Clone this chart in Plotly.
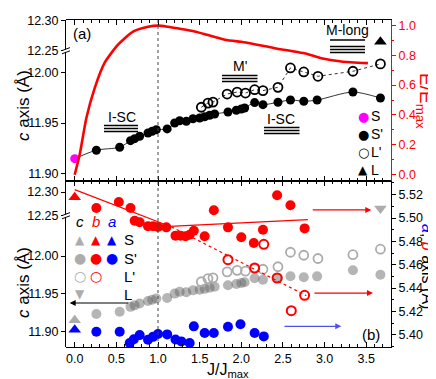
import plotly.graph_objects as go

# ---------------- data ----------------
# c-axis (Å) vs J/Jmax (shared by both panels)
J_S = [0.0]
c_S = [11.9146]
J_Sp = [0.26, 0.54, 0.67, 0.72, 0.78, 0.88, 0.93, 0.98, 1.11, 1.20, 1.26, 1.34, 1.42, 1.50,
        1.56, 1.62, 1.68, 1.84, 1.94, 2.00, 2.04, 2.16, 2.26, 2.44, 2.59, 2.75, 2.91, 3.34, 3.67]
c_Sp = [11.923, 11.926, 11.9325, 11.9345, 11.9369, 11.9402, 11.9419, 11.9435, 11.9442, 11.9501,
        11.9524, 11.9518, 11.9544, 11.9551, 11.9564, 11.9578, 11.9591, 11.9611, 11.9628, 11.9641,
        11.9651, 11.9705, 11.9684, 11.9708, 11.9731, 11.9718, 11.973, 11.981, 11.975]
J_Lp = [1.52, 1.60, 1.66, 1.83, 1.95, 2.05, 2.16, 2.26, 2.44, 2.59, 2.75, 2.92, 3.34, 3.67]
c_Lp = [11.9658, 11.970, 11.971, 11.979, 11.981, 11.980, 11.9833, 11.9824, 11.9857, 12.005,
        12.001, 11.9967, 12.0017, 12.009]
J_L = [3.67]
c_L = [12.265]

# normalised energy E/Emax
J_E = [0.0, 0.06, 0.14, 0.24, 0.36, 0.52, 0.70, 0.88, 1.0, 1.12, 1.28, 1.44, 1.60, 1.84,
       2.0, 2.40, 2.80, 2.96, 3.20, 3.52]
E_rel = [0.0, 0.135, 0.38, 0.58, 0.75, 0.87, 0.958, 0.99, 0.998, 0.99, 0.975, 0.958, 0.935,
         0.90, 0.89, 0.847, 0.807, 0.78, 0.758, 0.747]

# b-axis (Å)
b_S = [5.5178]
J_bSp = [0.26, 0.53, 0.67, 0.72, 0.78, 0.88, 0.94, 1.00, 1.10, 1.21, 1.27, 1.33, 1.38, 1.43,
         1.56, 1.67, 1.84, 2.00, 2.15, 2.26, 2.43, 2.59, 2.76]
b_Sp = [5.5086, 5.5137, 5.5086, 5.4977, 5.4963, 5.4929, 5.4929, 5.4923, 5.492, 5.4849, 5.4849,
        5.4843, 5.4857, 5.4891, 5.4843, 5.5066, 5.492, 5.4835, 5.4786, 5.490, 5.5195, 5.5109, 5.4911]
J_bLp = [1.84, 2.16, 2.27, 2.43, 2.60, 2.76]
b_Lp = [5.4643, 5.4572, 5.4775, 5.4486, 5.4206, 5.4338]

# linear fits of b
J_fit1 = [0.0, 1.14]
b_fit1 = [5.5243, 5.4929]
J_fit2 = [1.14, 2.80]
b_fit2 = [5.4929, 5.4986]
J_fit3 = [1.16, 2.78]
b_fit3 = [5.4925, 5.4335]

# a-axis (Å)
a_S = [5.4043]
J_aSp = [0.26, 0.54, 0.66, 0.71, 0.78, 0.88, 0.94, 1.00, 1.11, 1.21, 1.28, 1.38, 1.43, 1.56,
         1.67, 1.84, 1.99, 2.16, 2.27]
a_Sp = [5.4026, 5.4026, 5.3929, 5.3961, 5.3997, 5.3957, 5.3982, 5.4006, 5.4003, 5.3959, 5.3943,
        5.3929, 5.4072, 5.4015, 5.4015, 5.4068, 5.409, 5.4015, 5.3986]

x_ticks = [0.0, 0.5, 1.0, 1.5, 2.0, 2.5, 3.0, 3.5]

# ---------------- styling ----------------
RED = "#ff0000"
BLUE = "#0000ff"
MAG = "#ff00ff"
GRAY_F = "rgba(100,100,100,0.48)"
GRAY = "rgb(172,172,172)"
FONT = "Liberation Sans, Arial, sans-serif"

W, H = 436, 379
L, R, T, B = 58, 383, 12, 339


def Xp(px):
    return (px - L) / (R - L)


def Yp(py):
    return (B - py) / (B - T)


MID = Yp(173)
BRK_TOP = Yp(42.7)
BRK_BOT = Yp(207.7)

fig = go.Figure()

# ---- top panel ----
fig.add_trace(go.Scatter(x=J_S + J_Sp, y=c_S + c_Sp, xaxis="x2", yaxis="y", mode="lines",
                         line=dict(color="black", width=0.8, shape="spline", smoothing=0.8)))
fig.add_trace(go.Scatter(x=J_Lp, y=c_Lp, xaxis="x2", yaxis="y", mode="lines+markers",
                         line=dict(color="black", width=0.8, dash="dot"),
                         marker=dict(symbol="circle-open", size=9, color="black", line=dict(width=1.8))))
fig.add_trace(go.Scatter(x=J_Sp, y=c_Sp, xaxis="x2", yaxis="y", mode="markers",
                         marker=dict(symbol="circle", size=9, color="black")))
fig.add_trace(go.Scatter(x=J_S, y=c_S, xaxis="x2", yaxis="y", mode="markers",
                         marker=dict(symbol="circle", size=9, color=MAG)))
fig.add_trace(go.Scatter(x=J_L, y=c_L, xaxis="x2", yaxis="y2", mode="markers",
                         marker=dict(symbol="triangle-up", size=11, color="black")))
fig.add_trace(go.Scatter(x=J_E, y=E_rel, xaxis="x2", yaxis="y3", mode="lines",
                         line=dict(color=RED, width=2.6, shape="spline", smoothing=0.6)))

# ---- bottom panel ----
fig.add_trace(go.Scatter(x=J_Sp, y=c_Sp, xaxis="x", yaxis="y4", mode="markers",
                         marker=dict(symbol="circle", size=10, color=GRAY_F)))
fig.add_trace(go.Scatter(x=J_Lp, y=c_Lp, xaxis="x", yaxis="y4", mode="markers",
                         marker=dict(symbol="circle-open", size=9, color=GRAY, line=dict(width=1.8))))
fig.add_trace(go.Scatter(x=J_S, y=c_S, xaxis="x", yaxis="y4", mode="markers",
                         marker=dict(symbol="triangle-up", size=11, color=GRAY)))
fig.add_trace(go.Scatter(x=J_L, y=c_L, xaxis="x", yaxis="y5", mode="markers",
                         marker=dict(symbol="triangle-down", size=11, color=GRAY)))
fig.add_trace(go.Scatter(x=J_aSp, y=a_Sp, xaxis="x", yaxis="y6", mode="markers",
                         marker=dict(symbol="circle", size=10, color=BLUE)))
fig.add_trace(go.Scatter(x=J_S, y=a_S, xaxis="x", yaxis="y6", mode="markers",
                         marker=dict(symbol="triangle-up", size=11, color=BLUE)))
fig.add_trace(go.Scatter(x=J_fit1, y=b_fit1, xaxis="x", yaxis="y6", mode="lines",
                         line=dict(color=RED, width=1.2)))
fig.add_trace(go.Scatter(x=J_fit2, y=b_fit2, xaxis="x", yaxis="y6", mode="lines",
                         line=dict(color=RED, width=1.2)))
fig.add_trace(go.Scatter(x=J_fit3, y=b_fit3, xaxis="x", yaxis="y6", mode="lines",
                         line=dict(color=RED, width=1.2, dash="dot")))
fig.add_trace(go.Scatter(x=J_bSp, y=b_Sp, xaxis="x", yaxis="y6", mode="markers",
                         marker=dict(symbol="circle", size=10, color=RED)))
fig.add_trace(go.Scatter(x=J_bLp, y=b_Lp, xaxis="x", yaxis="y6", mode="markers",
                         marker=dict(symbol="circle-open", size=9, color=RED, line=dict(width=2))))
fig.add_trace(go.Scatter(x=J_S, y=b_S, xaxis="x", yaxis="y6", mode="markers",
                         marker=dict(symbol="triangle-up", size=11, color=RED)))

tick_font = dict(family=FONT, size=12.5, color="black")
x_common = dict(range=[-0.1044, 3.797], showgrid=False, zeroline=False,
                showline=True, linecolor="black", linewidth=1, ticks="inside", ticklen=5,
                tickcolor="black", tickvals=x_ticks, mirror="ticks",
                minor=dict(ticks="inside", ticklen=3, dtick=0.1, tick0=0, tickcolor="black"))
yc_common = dict(showgrid=False, zeroline=False, showline=True, linecolor="black", linewidth=1,
                 ticks="outside", ticklen=4, tickcolor="black", tickfont=tick_font,
                 tickformat=".2f", side="left")

fig.update_layout(
    width=W, height=H, margin=dict(l=L, r=W - R, t=T, b=H - B),
    paper_bgcolor="white", plot_bgcolor="rgba(0,0,0,0)", template="none",
    showlegend=False, font=dict(family=FONT, color="black"),
    xaxis=dict(**x_common, domain=[0, 1], anchor="y6", tickformat=".1f", tickfont=tick_font),
    xaxis2=dict(**x_common, domain=[0, 1], anchor="y3", matches="x", showticklabels=False),
    yaxis=dict(**yc_common, domain=[MID, BRK_TOP], range=[11.8923, 12.0222],
               tickvals=[11.90, 11.95, 12.00], anchor="x2"),
    yaxis2=dict(**yc_common, domain=[BRK_TOP, 1], range=[12.25, 12.3012],
                tickvals=[12.25, 12.30], anchor="x2"),
    yaxis3=dict(domain=[MID, 1], range=[-0.042, 1.0355], side="right", anchor="x2",
                showline=True, linecolor=RED, linewidth=1, ticks="outside", ticklen=4,
                tickcolor=RED, tickfont=dict(family=FONT, size=12.5, color=RED),
                dtick=0.2, tick0=0, tickformat=".1f", showgrid=False, zeroline=False,
                minor=dict(ticks="outside", dtick=0.1, tick0=0, ticklen=2, tickcolor=RED)),
    yaxis4=dict(**yc_common, domain=[0, BRK_BOT], range=[11.8792, 12.0535],
                tickvals=[11.90, 11.95, 12.00], anchor="x"),
    yaxis5=dict(**yc_common, domain=[BRK_BOT, MID], range=[12.25, 12.3232],
                tickvals=[12.25, 12.30], anchor="x"),
    yaxis6=dict(domain=[0, MID], range=[5.3895, 5.5317], side="right", anchor="x",
                showline=True, linecolor="black", linewidth=1, ticks="outside", ticklen=4,
                tickcolor="black", tickfont=tick_font, dtick=0.02, tick0=5.40,
                tickformat=".2f", showgrid=False, zeroline=False,
                minor=dict(ticks="outside", dtick=0.01, tick0=5.40, ticklen=2, tickcolor="black")),
)

shapes = []
# vertical dotted line at J/Jmax = 1
shapes.append(dict(type="line", xref="x", yref="paper", x0=1.0, x1=1.0, y0=0, y1=1,
                   line=dict(color="#444444", width=1, dash="dot")))
# axis breaks
for pyb in (42.7, 207.7):
    shapes.append(dict(type="rect", xref="paper", yref="paper", x0=Xp(55), x1=Xp(61),
                       y0=Yp(pyb + 1.2), y1=Yp(pyb - 1.2), line=dict(width=0), fillcolor="white"))
    for off in (-1.6, 1.6):
        shapes.append(dict(type="line", xref="paper", yref="paper", x0=Xp(54), x1=Xp(62),
                           y0=Yp(pyb + off + 1.5), y1=Yp(pyb + off - 1.5),
                           line=dict(color="black", width=1)))


# phase bars (≡) under labels
def bars(x0, x1, ys, color="black"):
    for yy in ys:
        shapes.append(dict(type="line", xref="paper", yref="paper", x0=Xp(x0), x1=Xp(x1),
                           y0=Yp(yy), y1=Yp(yy), line=dict(color=color, width=1.3)))


bars(96, 130, [117.5, 120.5, 123.5])
bars(214, 249.5, [67.5, 70.5, 73.5])
bars(256, 291.5, [119.5, 122.5, 125.5])
bars(322, 357, [32, 38.5, 41.5, 44.5])
fig.update_layout(shapes=shapes)

ann = []


def text(s, px, py, size=14, color="black", angle=0, xanchor="center", family=FONT):
    ann.append(dict(text=s, x=Xp(px), y=Yp(py), xref="paper", yref="paper", showarrow=False,
                    xanchor=xanchor, yanchor="middle", textangle=angle,
                    font=dict(family=family, size=size, color=color)))


text("(a)", 74, 25, 15)
text("(b)", 363, 326, 15)
text("I-SC", 113.5, 109, 14)
text("M'", 231.5, 58, 14)
text("I-SC", 273, 111, 14)
text("M-long", 339, 22, 14)

# axis titles
text("<i>c</i> axis (Å)", 15, 97, 17, angle=-90)
text("<i>c</i> axis (Å)", 15, 274, 17, angle=-90)
text("E/E<sub>max</sub>", 417, 93, 19, color=RED, angle=90)
text("<span style='color:#0000ff'><i>a</i></span>, <span style='color:#ff0000'><i>b</i></span> axis (Å)",
     420, 258, 16, angle=90)
text("J/J<sub>max</sub>", 220, 362, 16)

# top legend
GL = "DejaVu Sans"
text("●", 355, 108, 13, color=MAG, family=GL)
text("●", 355, 126, 13, color="black", family=GL)
text("○", 355, 144, 13, color="black", family=GL)
text("▲", 355, 162, 12, color="black", family=GL)
for s, py in (("S", 108), ("S'", 126), ("L'", 144), ("L", 162)):
    text(s, 361, py, 14, xanchor="left")

# bottom legend grid
text("<i>c</i>", 71.7, 213, 15)
text("<i>b</i>", 88.3, 213, 15, color=RED)
text("<i>a</i>", 104.3, 213, 15, color=BLUE)
text("▲", 71.7, 231.7, 12, color=GRAY, family=GL)
text("▲", 88.3, 231.7, 12, color=RED, family=GL)
text("▲", 104.3, 231.7, 12, color=BLUE, family=GL)
text("●", 71.7, 250, 14, color=GRAY, family=GL)
text("●", 88.3, 250, 14, color=RED, family=GL)
text("●", 104.3, 250, 14, color=BLUE, family=GL)
text("○", 71.7, 268.3, 14, color=GRAY, family=GL)
text("○", 88.3, 268.3, 14, color=RED, family=GL)
text("▼", 71.7, 286, 12, color=GRAY, family=GL)
for s, py in (("S", 231.7), ("S'", 250), ("L'", 268.3), ("L", 286)):
    text(s, 114, py, 15, xanchor="left")


def arrow(x_head, x_tail, yv, yref, color):
    ann.append(dict(x=x_head, y=yv, xref="x", yref=yref, ax=x_tail, ay=yv, axref="x", ayref=yref,
                    text="", showarrow=True, arrowhead=2, arrowsize=1, arrowwidth=1.2,
                    arrowcolor=color))


arrow(-0.06, 0.66, 11.9376, "y4", "black")
arrow(3.56, 2.84, 5.5069, "y6", RED)
arrow(3.58, 2.86, 5.4357, "y6", RED)
arrow(3.20, 2.50, 5.4072, "y6", "rgb(80,80,240)")

fig.update_layout(annotations=ann)
fig.write_html("out.html")
